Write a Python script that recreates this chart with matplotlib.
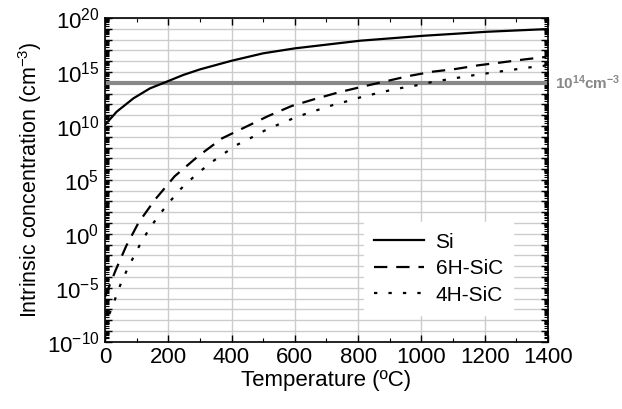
import numpy as np
import matplotlib
matplotlib.use('Agg')
import matplotlib.pyplot as plt
from matplotlib.ticker import FixedLocator, LogLocator, FuncFormatter, MultipleLocator

plt.rcParams['font.family'] = ['Liberation Sans', 'DejaVu Sans']

# odčítané hodnoty (T v °C, log10 koncentrácie v cm^-3)
t_si = [0, 37, 90, 142, 200, 247, 300, 400, 500, 600, 807, 1008, 1209, 1400]
log_si = [10.1, 11.32, 12.56, 13.48, 14.16, 14.72, 15.24, 16.04, 16.73, 17.19, 17.9, 18.36, 18.73, 18.98]

t_6h = [0, 34, 67, 106, 157, 220, 295, 370, 444, 516, 590, 663, 738, 812,
        959, 1033, 1106, 1180, 1254, 1327, 1395]
log_6h = [-5.83, -3.35, -1.13, 1.03, 3.13, 5.33, 7.21, 8.85, 9.9, 10.92, 11.85, 12.49, 13.11, 13.63,
          14.62, 15.02, 15.27, 15.62, 15.89, 16.17, 16.4]

t_4h = [14, 30, 47, 66, 88, 111, 137, 167, 202, 240, 284, 330, 374, 416, 464, 504, 553,
        595, 639, 682, 727, 772, 814, 859, 904, 948, 990, 1038, 1169, 1343, 1395]
log_4h = [-7.43, -6.2, -4.84, -3.57, -2.27, -0.97, 0.32, 1.59, 2.89, 4.18, 5.38, 6.5, 7.4, 8.23, 8.94, 9.56, 10.2,
          10.7, 11.17, 11.57, 12.0, 12.34, 12.71, 13.02, 13.33, 13.58, 13.79, 14.1, 14.72, 15.43, 15.6]

limit = 1e14

fig = plt.figure(figsize=(6.22, 4.09), dpi=100)
ax = fig.add_axes([0.1688, 0.1645, 0.7122, 0.7914])

ax.axhline(limit, color='#888888', lw=3, zorder=2)
ax.plot(t_si, 10.0 ** np.array(log_si), color='black', lw=1.6, label='Si', zorder=3)
ax.plot(t_6h, 10.0 ** np.array(log_6h), color='black', lw=1.6, dashes=(6, 4), label='6H-SiC', zorder=3)
ax.plot(t_4h, 10.0 ** np.array(log_4h), color='black', lw=1.6, dashes=(1.5, 5), label='4H-SiC', zorder=3)

ax.set_yscale('log')
ax.set_xlim(0, 1400)
ax.set_ylim(1e-10, 1e20)

ax.xaxis.set_major_locator(MultipleLocator(200))
ax.xaxis.set_minor_locator(MultipleLocator(100))
ax.yaxis.set_major_locator(FixedLocator([10.0 ** k for k in range(-10, 21)]))
ax.yaxis.set_minor_locator(LogLocator(base=10, subs=np.arange(2, 10), numticks=200))


def fmt(v, pos):
    k = int(round(np.log10(v)))
    if k % 5 == 0:
        return r'$\mathregular{10^{%d}}$' % k
    return ''


ax.yaxis.set_major_formatter(FuncFormatter(fmt))

ax.grid(True, which='major', color='#cccccc', lw=1, zorder=0)
ax.set_axisbelow(True)
ax.tick_params(which='both', direction='in', top=True, right=True, labelsize=16)
ax.tick_params(which='major', length=5, width=1, pad=4)
ax.tick_params(which='minor', length=3, width=0.8)
for s in ax.spines.values():
    s.set_linewidth(1.2)

ax.set_xlabel('Temperature (ºC)', fontsize=16, labelpad=1)
ax.set_ylabel(r'Intrinsic concentration (cm$^{\mathregular{-3}}$)', fontsize=15.5, labelpad=2)

ax.text(1.016, ax.transAxes.inverted().transform(ax.transData.transform((0, limit)))[1],
        r'$\mathregular{10^{14}cm^{-3}}$', transform=ax.transAxes, color='#888888',
        fontsize=11, fontweight='bold', va='center', ha='left')

leg = ax.legend(loc='lower right', bbox_to_anchor=(0.945, 0.05), fontsize=15,
                handlelength=2.4, handletextpad=0.55, labelspacing=0.36, borderpad=0.5,
                frameon=True, fancybox=False, edgecolor='white', framealpha=1)

fig.savefig('out.png', dpi=100)
